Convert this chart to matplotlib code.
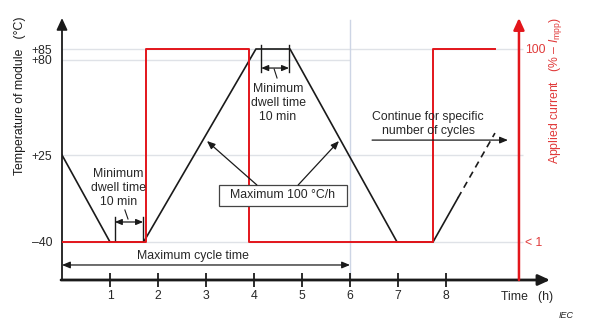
import numpy as np
import matplotlib
matplotlib.use('Agg')
from matplotlib import pyplot as plt
from matplotlib.patches import Rectangle

plt.rcParams['font.family'] = ['Liberation Sans', 'DejaVu Sans']
plt.rcParams['mathtext.fontset'] = 'custom'
plt.rcParams['mathtext.rm'] = 'Liberation Sans'
plt.rcParams['mathtext.it'] = 'Liberation Sans:italic'

# Module temperature over one cycle (h, degC)
temp_time = [0, 1.0, 1.7, 4.04, 4.75, 6.98, 7.73, 8.25]
temp_vals = [25, -40, -40, 85, 85, -40, -40, -7]
# start of the following cycle, drawn dashed
next_time = [8.25, 9.02]
next_vals = [-7, 37.7]

# Applied current (% of Impp)
cur_time = [0, 1.75, 1.75, 3.9, 3.9, 7.73, 7.73, 9.02]
cur_vals = [0, 0, 100, 100, 0, 0, 100, 100]

time_ticks = [1, 2, 3, 4, 5, 6, 7, 8]
temp_ticks = [-40, 25, 80, 85]
temp_labels = ['\u201340', '+25', '+80', '+85']
cur_ticks = [0, 100]
cur_labels = ['< 1', '100']

INK = '#1a1a1a'
TXT = '#262626'
RED = '#e3151b'
RED_TXT = '#e03a3a'
FS = 8.8

# The temperature axis is schematic: piecewise linear between the labelled levels
# (knots given as pixel heights above the bottom of the figure)
knot_temp = np.array([-300, -40, 25, 80, 85, 300])
knot_pos = np.array([-255.9, 92, 179, 274, 285, 758])


def temp_to_height(t):
    return np.interp(t, knot_temp, knot_pos)


def height_to_temp(p):
    return np.interp(p, knot_pos, knot_temp)


fig = plt.figure(figsize=(6, 3.34), dpi=100)
ax = fig.add_axes([62 / 600, 54 / 334, 488 / 600, 262 / 334])
ax.set_yscale('function', functions=(temp_to_height, height_to_temp))
ax.set_xlim(0, 488 / 48)
ax.set_ylim(float(height_to_temp(54)), float(height_to_temp(316)))

# light reference lines
ax.hlines([85, 25, -40], 0, 9.6, colors='#dfe2e7', lw=1, zorder=0)
ax.hlines(80, 0, 6, colors='#dfe2e7', lw=1, zorder=0)
ax.axvline(6, ymin=0, ymax=0.992, color='#cdd5e5', lw=1, zorder=0)

# temperature profile
ax.plot(temp_time, temp_vals, color=INK, lw=1.2)
ax.plot(next_time, next_vals, color=INK, lw=1.2, ls=(0, (4, 3)))

ax.set_xticks(time_ticks)
ax.tick_params(axis='x', direction='inout', length=10, width=1.3, pad=2,
               labelsize=FS, labelcolor=TXT, color=INK)
ax.set_yticks(temp_ticks, temp_labels)
ax.tick_params(axis='y', length=0, pad=7, labelsize=FS, labelcolor=TXT)
for s in ax.spines.values():
    s.set_visible(False)

axis_arrow = '-|>,head_length=0.5,head_width=0.23'
ax.annotate('', xy=(0, 1), xytext=(0, 0), xycoords='axes fraction',
            arrowprops=dict(arrowstyle=axis_arrow, mutation_scale=14, lw=1.3,
                            color=INK, shrinkA=0, shrinkB=0))
ax.annotate('', xy=(1, 0), xytext=(-0.002, 0), xycoords='axes fraction',
            arrowprops=dict(arrowstyle=axis_arrow, mutation_scale=14, lw=2,
                            color=INK, shrinkA=0, shrinkB=0))

# applied current on its own axis
ax2 = ax.twinx()
ax2.set_ylim(-19.69, 116.06)
ax2.plot(cur_time, cur_vals, color=RED, lw=1.4)
for s in ax2.spines.values():
    s.set_visible(False)
ax2.spines['right'].set_position(('data', 9.52))
ax2.set_yticks(cur_ticks, cur_labels)
ax2.tick_params(axis='y', length=0, pad=4.5, labelsize=FS, labelcolor=RED_TXT)

tr = ax2.get_xaxis_transform()
ax2.annotate('', xy=(9.52, 1), xytext=(9.52, 0), xycoords=tr,
             arrowprops=dict(arrowstyle=axis_arrow, mutation_scale=14, lw=1.8,
                             color=RED, shrinkA=0, shrinkB=0))

small_arrow = dict(arrowstyle='-|>,head_length=0.6,head_width=0.25',
                   mutation_scale=8, lw=0.9, color=INK, shrinkA=0, shrinkB=0)
dim_arrow = dict(arrowstyle='<|-|>,head_length=0.6,head_width=0.25',
                 mutation_scale=7, lw=0.9, color=INK, shrinkA=0, shrinkB=0)

# dwell at the low temperature
ax2.text(1.17, 0.351, 'Minimum\ndwell time\n10 min', transform=tr, ha='center',
         va='center', fontsize=FS, linespacing=1.2, color=TXT)
for x in (1.10, 1.69):
    ax2.plot([x, x], [0.1527, 0.2405], transform=tr, color=INK, lw=1)
ax2.annotate('', xy=(1.69, 0.2214), xytext=(1.10, 0.2214), xycoords=tr,
             arrowprops=dim_arrow)
ax2.plot([1.31, 1.375], [0.2672, 0.2328], transform=tr, color=INK, lw=0.8)

# dwell at the high temperature
ax2.text(4.5, 0.6756, 'Minimum\ndwell time\n10 min', transform=tr, ha='center',
         va='center', fontsize=FS, linespacing=1.2, color=TXT)
for x in (4.15, 4.73):
    ax2.plot([x, x], [0.794, 0.897], transform=tr, color=INK, lw=1)
ax2.annotate('', xy=(4.73, 0.809), xytext=(4.15, 0.809), xycoords=tr,
             arrowprops=dim_arrow)
ax2.plot([4.42, 4.48], [0.805, 0.771], transform=tr, color=INK, lw=0.8)

# ramp rate box
ax2.add_patch(Rectangle((3.27, 0.2824), 2.67, 0.0802, transform=tr,
                        facecolor='white', edgecolor='#444444', lw=0.9, zorder=3))
ax2.text(4.6, 0.3226, 'Maximum 100 \u00b0C/h', transform=tr, ha='center',
         va='center', fontsize=FS, color=TXT, zorder=4)
ax2.annotate('', xy=(3.02, 0.5305), xytext=(4.06, 0.3626), xycoords=tr,
             arrowprops=small_arrow)
ax2.annotate('', xy=(5.77, 0.5305), xytext=(4.92, 0.3626), xycoords=tr,
             arrowprops=small_arrow)

# cycle time
ax2.text(2.73, 0.0916, 'Maximum cycle time', transform=tr, ha='center',
         va='center', fontsize=FS, color=TXT)
ax2.annotate('', xy=(6, 0.0573), xytext=(0, 0.0573), xycoords=tr,
             arrowprops=dict(small_arrow, arrowstyle='<|-|>,head_length=0.6,head_width=0.25'))

# further cycles
ax2.text(7.625, 0.595, 'Continue for specific\nnumber of cycles', transform=tr,
         ha='center', va='center', fontsize=FS, linespacing=1.2, color=TXT)
ax2.annotate('', xy=(9.29, 0.534), xytext=(6.46, 0.534), xycoords=tr,
             arrowprops=small_arrow)

ax2.text(9.69, -0.065, 'Time   (h)', transform=tr, ha='center', va='center',
         fontsize=FS, color=TXT)

fig.text(20 / 600, 1 - 96 / 334, 'Temperature of module   (\u00b0C)', rotation=90,
         ha='center', va='center', fontsize=FS, color=INK)
fig.text(556 / 600, 1 - 90 / 334,
         'Applied current   (% \u2013 $I_{\\mathrm{mpp}}$)', rotation=90,
         ha='center', va='center', fontsize=FS, color=RED_TXT)
fig.text(566 / 600, 1 - 316 / 334, 'IEC', style='italic', ha='center',
         va='center', fontsize=6.5, color=TXT)

fig.savefig('out.png', dpi=100, facecolor='white')
